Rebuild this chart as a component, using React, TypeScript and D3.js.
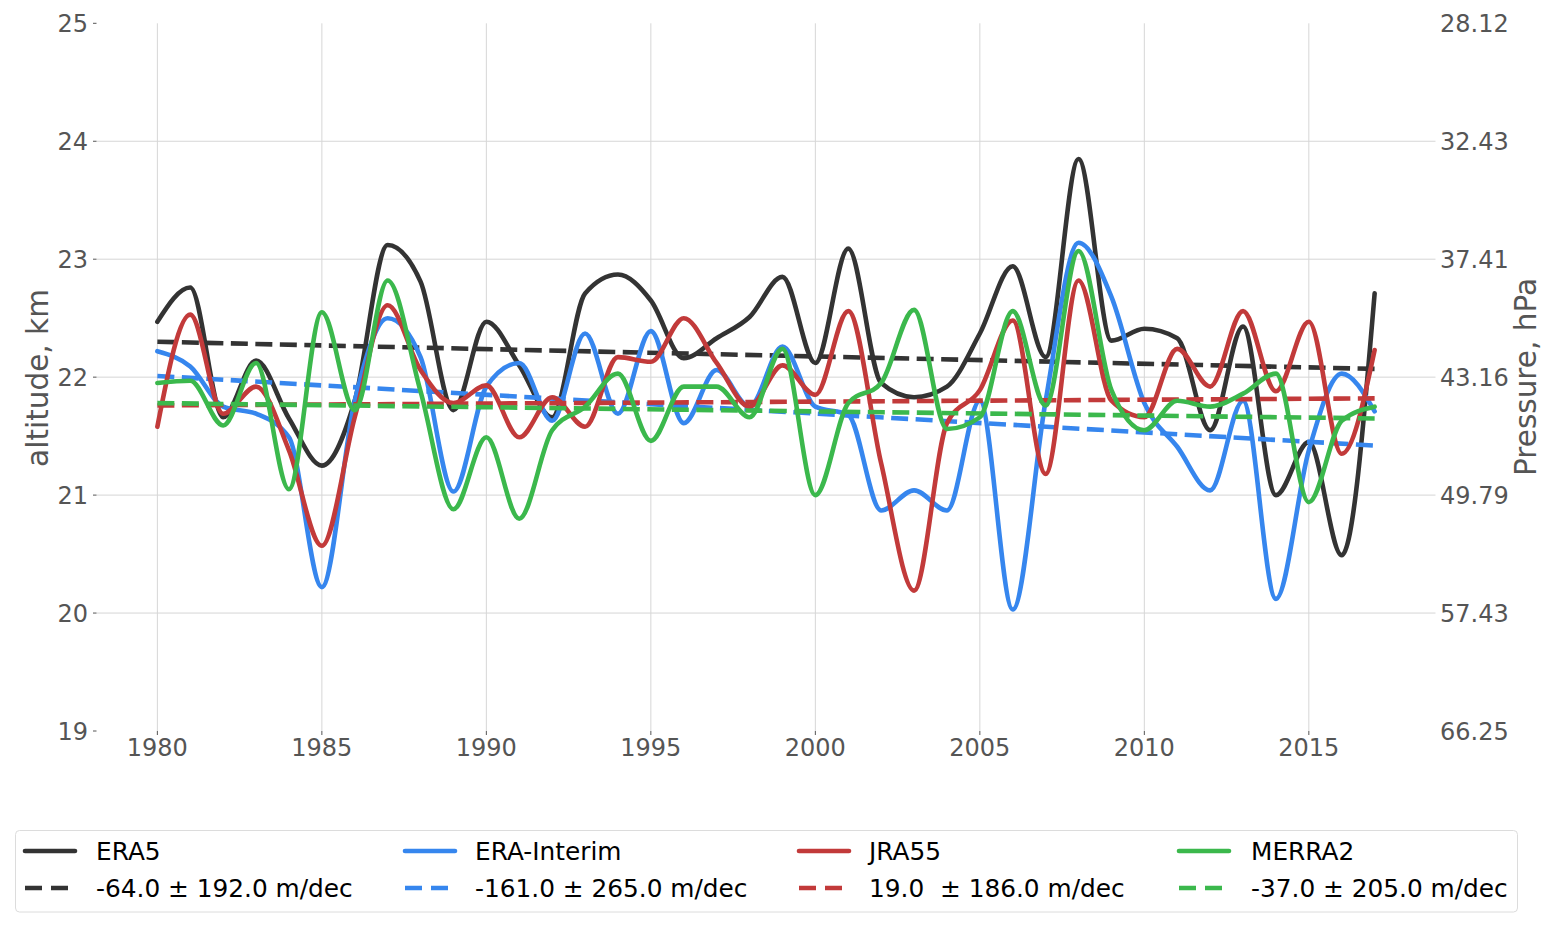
import * as d3 from "d3";

// annual mean tropopause altitude, km
const years = [
  1980, 1981, 1982, 1983, 1984, 1985, 1986, 1987, 1988, 1989,
  1990, 1991, 1992, 1993, 1994, 1995, 1996, 1997, 1998, 1999,
  2000, 2001, 2002, 2003, 2004, 2005, 2006, 2007, 2008, 2009,
  2010, 2011, 2012, 2013, 2014, 2015, 2016, 2017,
];

const era5 = [
  22.47, 22.76, 21.66, 22.14, 21.65, 21.25, 21.8, 23.12, 22.81, 21.72,
  22.47, 22.1, 21.66, 22.71, 22.87, 22.65, 22.16, 22.33, 22.51, 22.85,
  22.12, 23.09, 21.95, 21.83, 21.92, 22.37, 22.94, 22.17, 23.85, 22.31,
  22.41, 22.33, 21.55, 22.43, 21.0, 21.45, 20.49, 22.71,
];

const eraInterim = [
  22.22, 22.09, 21.75, 21.69, 21.49, 20.22, 21.8, 22.5, 22.17, 21.03,
  21.92, 22.12, 21.63, 22.37, 21.69, 22.39, 21.61, 22.06, 21.75, 22.26,
  21.75, 21.68, 20.87, 21.04, 20.87, 21.8, 20.03, 21.8, 23.14, 22.68,
  21.78, 21.41, 21.04, 21.8, 20.12, 21.38, 22.03, 21.71,
];

const jra55 = [
  21.58, 22.53, 21.69, 21.92, 21.38, 20.57, 21.66, 22.61, 22.06, 21.78,
  21.93, 21.49, 21.83, 21.58, 22.17, 22.13, 22.5, 22.12, 21.75, 22.1,
  21.85, 22.56, 21.27, 20.19, 21.61, 21.89, 22.48, 21.18, 22.82, 21.8,
  21.66, 22.24, 21.92, 22.56, 21.88, 22.47, 21.35, 22.23,
];

const merra2 = [
  21.95, 21.97, 21.59, 22.12, 21.05, 22.55, 21.72, 22.82, 21.88, 20.88,
  21.49, 20.8, 21.55, 21.75, 22.03, 21.46, 21.92, 21.92, 21.66, 22.24,
  21.0, 21.78, 21.95, 22.57, 21.56, 21.66, 22.56, 21.76, 23.07, 21.89,
  21.55, 21.8, 21.75, 21.86, 22.03, 20.94, 21.63, 21.75,
];

// linear trend, value at first and last year
const trendStart = [22.3, 22.01, 21.76, 21.78];
const trendEnd = [22.07, 21.42, 21.82, 21.65];

const seriesNames = ["ERA5", "ERA-Interim", "JRA55", "MERRA2"];
const trendLabels = [
  "-64.0 ± 192.0 m/dec",
  "-161.0 ± 265.0 m/dec",
  "19.0  ± 186.0 m/dec",
  "-37.0 ± 205.0 m/dec",
];
const seriesValues = [era5, eraInterim, jra55, merra2];
const colors = ["#333333", "#3686ee", "#c23a3a", "#3bb84c"];

const altTicks = [19, 20, 21, 22, 23, 24, 25];
const pressureLabels = ["66.25", "57.43", "49.79", "43.16", "37.41", "32.43", "28.12"];
const yearTicks = [1980, 1985, 1990, 1995, 2000, 2005, 2010, 2015];

const W = 1555;
const H = 928;
const font = "DejaVu Sans";
const tickColor = "#555555";

export default function App() {
  const x = d3.scaleLinear().domain([1978.15, 2018.85]).range([96.5, 1435.5]);
  const y = d3.scaleLinear().domain([19, 25]).range([731, 23.3]);
  const [x0, x1] = x.range();
  const [yBottom, yTop] = y.range();

  const line = d3
    .line<number>()
    .x((_, i) => x(years[i]))
    .y((d) => y(d))
    .curve(d3.curveMonotoneX);

  const firstYear = years[0];
  const lastYear = years[years.length - 1];

  // legend columns
  const legendHandleX = [23, 403, 797, 1177];
  const legendTextX = [96, 475, 869, 1251];
  const legendRows = [851, 888];

  return (
    <svg
      width={W}
      height={H}
      style={{ position: "absolute", left: 0, top: 0, display: "block" }}
      fontFamily={font}
    >
      <rect width={W} height={H} fill="white" />

      {/* grid */}
      {altTicks
        .filter((t) => t > 19 && t < 25)
        .map((t) => (
          <line key={"gy" + t} x1={x0} x2={x1} y1={y(t)} y2={y(t)} stroke="#d6d6d6" strokeWidth={1} />
        ))}
      {yearTicks.map((t) => (
        <line key={"gx" + t} x1={x(t)} x2={x(t)} y1={yTop} y2={yBottom} stroke="#d6d6d6" strokeWidth={1} />
      ))}

      {/* left axis */}
      {altTicks.map((t) => (
        <g key={"ly" + t}>
          <line x1={x0 - 3.5} x2={x0} y1={y(t)} y2={y(t)} stroke={tickColor} strokeWidth={1} />
          <text x={88} y={y(t)} dy="0.36em" textAnchor="end" fontSize={24} fill={tickColor}>
            {t}
          </text>
        </g>
      ))}
      {/* right axis (pressure) */}
      {altTicks.map((t, i) => (
        <text key={"ry" + t} x={1440} y={y(t)} dy="0.36em" textAnchor="start" fontSize={24} fill={tickColor}>
          {pressureLabels[i]}
        </text>
      ))}
      {/* bottom axis */}
      {yearTicks.map((t) => (
        <g key={"bx" + t}>
          <line x1={x(t)} x2={x(t)} y1={yBottom} y2={yBottom + 4} stroke={tickColor} strokeWidth={1} />
          <text x={x(t)} y={756} textAnchor="middle" fontSize={24} fill={tickColor}>
            {t}
          </text>
        </g>
      ))}

      <text transform="translate(48,378) rotate(-90)" textAnchor="middle" fontSize={29.5} fill={tickColor}>
        altitude, km
      </text>
      <text transform="translate(1536,377) rotate(-90)" textAnchor="middle" fontSize={29.5} fill={tickColor}>
        Pressure, hPa
      </text>

      {/* series and trends */}
      {seriesValues.map((vals, i) => (
        <g key={"s" + i}>
          <path
            d={line(vals) ?? ""}
            fill="none"
            stroke={colors[i]}
            strokeWidth={4.6}
            strokeLinejoin="round"
            strokeLinecap="round"
          />
          <line
            x1={x(firstYear)}
            x2={x(lastYear)}
            y1={y(trendStart[i])}
            y2={y(trendEnd[i])}
            stroke={colors[i]}
            strokeWidth={4.6}
            strokeDasharray="17,7.5"
          />
        </g>
      ))}

      {/* legend */}
      <rect x={15.5} y={830.5} width={1502} height={81.5} rx={4} fill="white" stroke="#dcdcdc" strokeWidth={1} />
      {seriesNames.map((name, i) => (
        <g key={"lg" + i}>
          <line
            x1={legendHandleX[i] + 2}
            x2={legendHandleX[i] + 52}
            y1={legendRows[0]}
            y2={legendRows[0]}
            stroke={colors[i]}
            strokeWidth={4.6}
            strokeLinecap="round"
          />
          <text x={legendTextX[i]} y={legendRows[0]} dy="0.36em" fontSize={24.8} fill="#000" style={{ whiteSpace: "pre" }}>
            {name}
          </text>
          <line
            x1={legendHandleX[i] + 2}
            x2={legendHandleX[i] + 54}
            y1={legendRows[1]}
            y2={legendRows[1]}
            stroke={colors[i]}
            strokeWidth={4.6}
            strokeDasharray="17,9"
          />
          <text x={legendTextX[i]} y={legendRows[1]} dy="0.36em" fontSize={24.8} fill="#000" style={{ whiteSpace: "pre" }}>
            {trendLabels[i]}
          </text>
        </g>
      ))}
    </svg>
  );
}
